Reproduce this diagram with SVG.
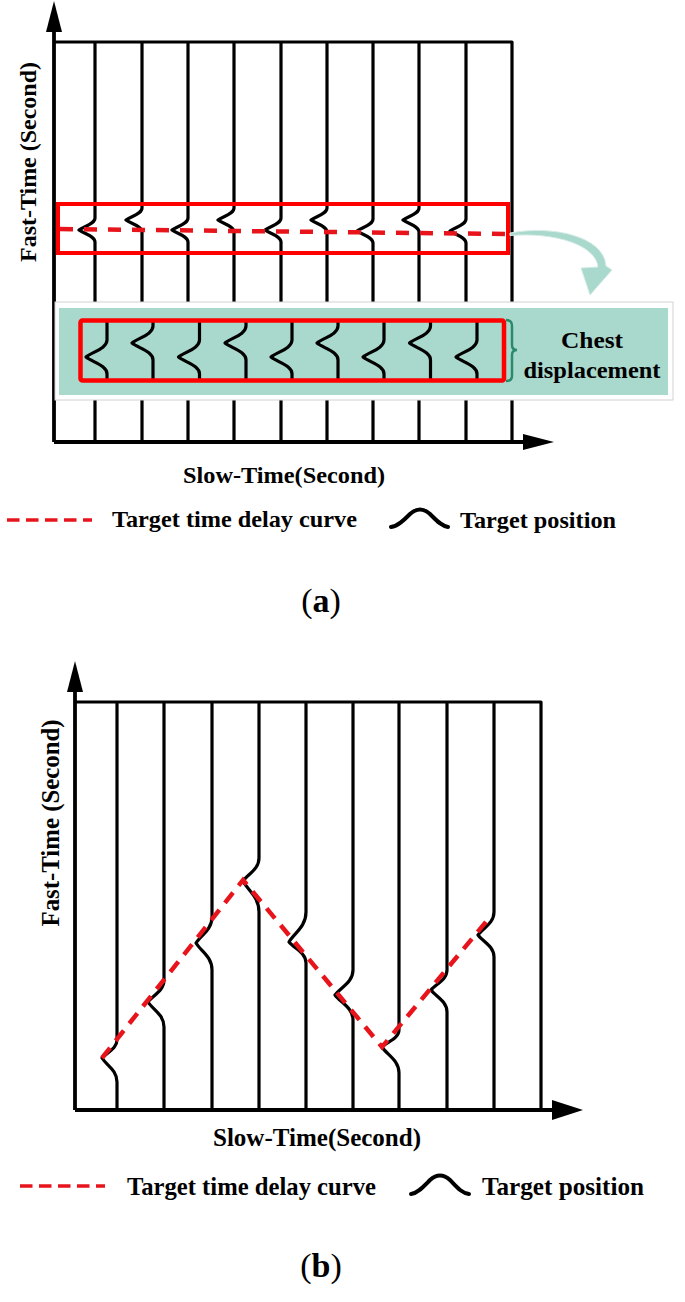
<svg xmlns="http://www.w3.org/2000/svg" width="685" height="1302" viewBox="0 0 685 1302">
<style>
.ln{fill:none;stroke:#000;stroke-width:3.2;stroke-linejoin:round;stroke-linecap:butt}
.ax{fill:none;stroke:#000;stroke-width:3.8}
.ah{fill:#000}
.rr{fill:none;stroke:#ff0000;stroke-width:4}
.rd{fill:none;stroke:#e8141b;stroke-width:4.5;stroke-dasharray:13 11}
.lg{fill:none;stroke:#e8141b;stroke-width:3.5;stroke-dasharray:12.5 6.5}
.tx{font-family:"Liberation Serif","Times New Roman",serif;font-weight:bold;fill:#000}
.sym{fill:none;stroke:#000;stroke-width:4;stroke-linecap:round}
.lab{font-family:"Liberation Serif","Times New Roman",serif;font-size:34px;fill:#000}
</style>
<rect width="685" height="1302" fill="#fff"/>

<!-- ===== Panel (a) ===== -->
<g id="a-grid">
  <path class="ln" d="M54,42 H512 V442"/>
  <path class="ln" d="M95,42 V218 C95,224 83.8,226.4 79,230 C83.8,233.6 95,236 95,242 V442"/>
  <path class="ln" d="M142,42 V208 C142,214 130.8,216.4 126,220 C130.8,223.6 142,226 142,232 V442"/>
  <path class="ln" d="M188,42 V218 C188,224 176.8,226.4 172,230 C176.8,233.6 188,236 188,242 V442"/>
  <path class="ln" d="M234,42 V208 C234,214 222.8,216.4 218,220 C222.8,223.6 234,226 234,232 V442"/>
  <path class="ln" d="M281,42 V218 C281,224 269.8,226.4 265,230 C269.8,233.6 281,236 281,242 V442"/>
  <path class="ln" d="M327,42 V208 C327,214 315.8,216.4 311,220 C315.8,223.6 327,226 327,232 V442"/>
  <path class="ln" d="M373,42 V219 C373,225 361.8,227.4 357,231 C361.8,234.6 373,237 373,243 V442"/>
  <path class="ln" d="M419,42 V208 C419,214 407.8,216.4 403,220 C407.8,223.6 419,226 419,232 V442"/>
  <path class="ln" d="M466,42 V219 C466,225 454.8,227.4 450,231 C454.8,234.6 466,237 466,243 V442"/>
</g>
<g id="a-axes">
  <path class="ax" d="M54,442 V30"/>
  <path class="ah" d="M54,1 L46,32 L62,32 Z"/>
  <path class="ax" d="M54,442 H525"/>
  <path class="ah" d="M554,442 L523,434 L523,450 Z"/>
</g>
<g id="a-window">
  <path class="rd" d="M60,229 L507,234"/>
  <rect class="rr" x="58" y="204" width="450" height="49"/>
</g>
<g id="a-zoom-arrow">
  <path d="M510,233 C552,225 604,236 606,266 L612,270 L590,295 L581,268 L598,267 C596,245 555,232 510,235.5 Z" fill="#a9d8cc" stroke="#d6ece6" stroke-width="1"/>
</g>
<g id="a-zoom-box">
  <rect x="55" y="302" width="618" height="98" fill="#fff" stroke="#d2d2d2" stroke-width="1"/>
  <rect x="59" y="308" width="609" height="87" fill="#a9d8cc"/>
  <path class="ln" d="M107,321 V340 C107,348.5 92.3,351.9 86,357 C92.3,362.1 107,365.5 107,374 V381"/>
  <path class="ln" d="M153,321 V326 C153,334.5 138.3,337.9 132,343 C138.3,348.1 153,351.5 153,360 V381"/>
  <path class="ln" d="M199.5,321 V340 C199.5,348.5 184.8,351.9 178.5,357 C184.8,362.1 199.5,365.5 199.5,374 V381"/>
  <path class="ln" d="M246,321 V326 C246,334.5 231.3,337.9 225,343 C231.3,348.1 246,351.5 246,360 V381"/>
  <path class="ln" d="M292,321 V340 C292,348.5 277.3,351.9 271,357 C277.3,362.1 292,365.5 292,374 V381"/>
  <path class="ln" d="M338,321 V326 C338,334.5 323.3,337.9 317,343 C323.3,348.1 338,351.5 338,360 V381"/>
  <path class="ln" d="M384,321 V340 C384,348.5 369.3,351.9 363,357 C369.3,362.1 384,365.5 384,374 V381"/>
  <path class="ln" d="M430.5,321 V326 C430.5,334.5 415.8,337.9 409.5,343 C415.8,348.1 430.5,351.5 430.5,360 V381"/>
  <path class="ln" d="M477,321 V340 C477,348.5 462.3,351.9 456,357 C462.3,362.1 477,365.5 477,374 V381"/>
  <rect x="80.5" y="320.5" width="423.5" height="60" rx="2" fill="none" stroke="#ff0000" stroke-width="4.5"/>
  <path d="M506,320 Q512,320 512,326 L512,345 Q512,350 517,350 Q512,350 512,355 L512,376 Q512,381 506,381" fill="none" stroke="#2a8a6c" stroke-width="2.5"/>
  <text class="tx" x="592" y="348" font-size="24" text-anchor="middle" fill="#111" textLength="62" lengthAdjust="spacingAndGlyphs">Chest</text>
  <text class="tx" x="592" y="378" font-size="24" text-anchor="middle" fill="#111" textLength="137" lengthAdjust="spacingAndGlyphs">displacement</text>
</g>
<g id="a-labels">
  <text class="tx" font-size="24" text-anchor="middle" transform="translate(36,162) rotate(-90)" textLength="200" lengthAdjust="spacingAndGlyphs">Fast-Time (Second)</text>
  <text class="tx" x="183" y="483" font-size="24" textLength="202" lengthAdjust="spacingAndGlyphs">Slow-Time(Second)</text>
</g>
<g id="a-legend">
  <path class="lg" d="M7,520 H92"/>
  <text class="tx" x="112" y="527" font-size="24" textLength="245" lengthAdjust="spacingAndGlyphs">Target time delay curve</text>
  <path class="sym" d="M391,527 C398,526 404,520 410,514 Q420,505 430,514 C436,520 441,526 448,527"/>
  <text class="tx" x="460" y="528" font-size="24" textLength="156" lengthAdjust="spacingAndGlyphs">Target position</text>
</g>
<g id="a-caption">
  <text class="lab" x="321" y="612" text-anchor="middle">(<tspan font-weight="bold">a</tspan>)</text>
</g>

<!-- ===== Panel (b) ===== -->
<g id="b-grid">
  <path class="ln" d="M75,702 H541 V1110"/>
  <path class="ln" d="M117,702 V1040 C117,1049 106.5,1052.6 102,1058 C106.5,1065.2 117,1070 117,1082 V1110"/>
  <path class="ln" d="M164,702 V980 C164,991 152.8,995.4 148,1002 C152.8,1009.5 164,1014.5 164,1027 V1110"/>
  <path class="ln" d="M212,702 V917 C212,930 200.8,935.2 196,943 C200.8,951.1 212,956.5 212,970 V1110"/>
  <path class="ln" d="M259,702 V858 C259,869.5 247.8,874.1 243,881 C247.8,890.3 259,896.5 259,912 V1110"/>
  <path class="ln" d="M306,702 V912 C306,927 294.1,933 289,942 C294.1,948.3 306,952.5 306,963 V1110"/>
  <path class="ln" d="M353,702 V970 C353,982.5 340.4,987.5 335,995 C340.4,1002.5 353,1007.5 353,1020 V1110"/>
  <path class="ln" d="M399,702 V1030 C399,1038.5 387.1,1041.9 382,1047 C387.1,1054.8 399,1060 399,1073 V1110"/>
  <path class="ln" d="M447,702 V970 C447,980 435.8,984 431,990 C435.8,996.6 447,1001 447,1012 V1110"/>
  <path class="ln" d="M494,702 V912 C494,923.5 482.8,928.1 478,935 C482.8,941.6 494,946 494,957 V1110"/>
</g>
<g id="b-axes">
  <path class="ax" d="M75,1110 V690"/>
  <path class="ah" d="M75,661 L67,692 L83,692 Z"/>
  <path class="ax" d="M75,1110 H554"/>
  <path class="ah" d="M583,1110 L552,1100 L552,1120 Z"/>
</g>
<g id="b-delay">
  <path class="rd" style="stroke-dasharray:13 9" d="M102,1058 L243,880 L382,1047 L490,917"/>
</g>
<g id="b-labels">
  <text class="tx" font-size="26" text-anchor="middle" transform="translate(59,823) rotate(-90)" textLength="207" lengthAdjust="spacingAndGlyphs">Fast-Time (Second)</text>
  <text class="tx" x="213" y="1146" font-size="25" textLength="208" lengthAdjust="spacingAndGlyphs">Slow-Time(Second)</text>
</g>
<g id="b-legend">
  <path class="lg" d="M20,1186 H105"/>
  <text class="tx" x="127" y="1195" font-size="24.5" textLength="249" lengthAdjust="spacingAndGlyphs">Target time delay curve</text>
  <path class="sym" d="M411,1194 C418,1193 424,1186 430,1180 Q440,1171 450,1180 C456,1186 461,1193 469,1194"/>
  <text class="tx" x="482" y="1195" font-size="24.5" textLength="162" lengthAdjust="spacingAndGlyphs">Target position</text>
</g>
<g id="b-caption">
  <text class="lab" x="321" y="1277" text-anchor="middle">(<tspan font-weight="bold">b</tspan>)</text>
</g>
</svg>
